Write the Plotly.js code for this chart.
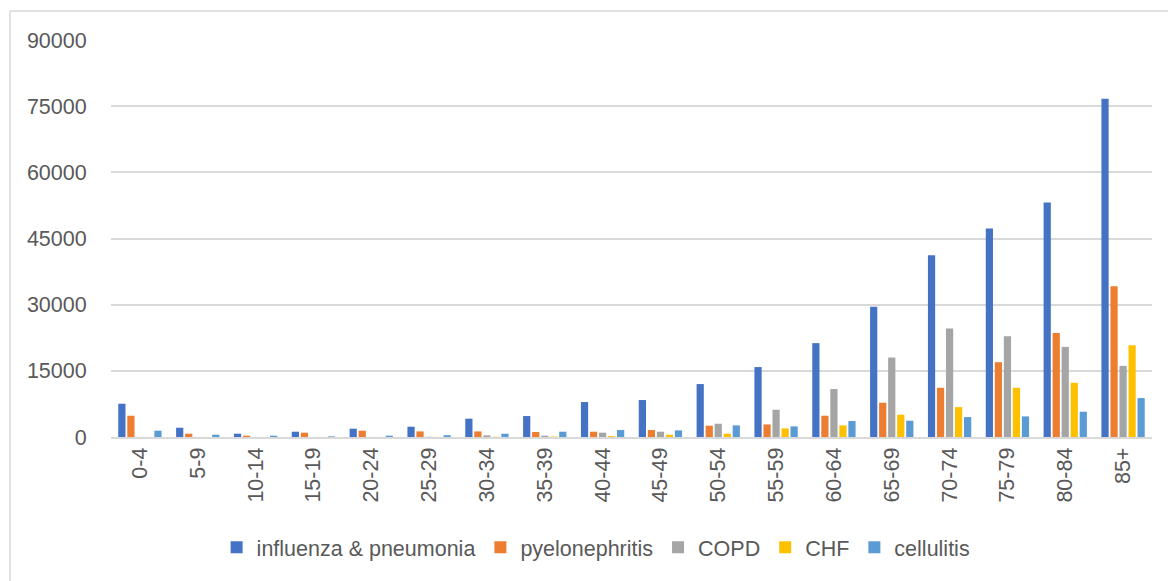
<!DOCTYPE html>
<html>
<head>
<meta charset="utf-8">
<script src="https://cdn.plot.ly/plotly-3.0.1.min.js"></script>
<style>
  html, body { margin: 0; padding: 0; background: #fff; }
  #chart { width: 1168px; height: 581px; }
</style>
</head>
<body>
<div id="chart"></div>
<script>
const ageGroups = ["0-4","5-9","10-14","15-19","20-24","25-29","30-34","35-39","40-44","45-49","50-54","55-59","60-64","65-69","70-74","75-79","80-84","85+"];
const influenzaPneumonia = [7540, 2100, 750, 1200, 1880, 2330, 4150, 4750, 7920, 8380, 12000, 15850, 21280, 29500, 41230, 47260, 53140, 76660];
const pyelonephritis     = [4820, 750, 300, 980, 1430, 1270, 1270, 1130, 1200, 1580, 2560, 2850, 4820, 7770, 11160, 16960, 23590, 34150];
const copd               = [20, 15, 10, 15, 20, 60, 370, 300, 980, 1200, 3010, 6180, 10870, 18020, 24570, 22840, 20430, 16130];
const chf                = [10, 10, 10, 10, 15, 20, 60, 100, 200, 520, 750, 1950, 2630, 5050, 6780, 11160, 12290, 20800];
const cellulitis         = [1430, 520, 300, 150, 300, 400, 750, 1200, 1580, 1500, 2630, 2400, 3620, 3690, 4520, 4670, 5730, 8820];
const yTicks = [0, 15000, 30000, 45000, 60000, 75000, 90000];

const seriesNames = ["influenza & pneumonia", "pyelonephritis", "COPD", "CHF", "cellulitis"];
const seriesValues = [influenzaPneumonia, pyelonephritis, copd, chf, cellulitis];
const seriesColors = ["#4472C4", "#ED7D31", "#A5A5A5", "#FFC000", "#5B9BD5"];

const FONT = "'Liberation Sans', Arial, sans-serif";
const FS = 21.5;

const data = seriesNames.map((name, i) => ({
  type: "bar",
  name: name,
  x: ageGroups,
  y: seriesValues[i],
  marker: { color: seriesColors[i], line: { width: 0 } },
  hoverinfo: "x+y+name"
}));

const plotH = 581 - 40 - 143.5;
const plotW = 1168 - 111 - 16;

const layout = {
  width: 1168,
  height: 581,
  margin: { l: 111, r: 16, t: 40, b: 143.5, pad: 0 },
  paper_bgcolor: "#ffffff",
  plot_bgcolor: "#ffffff",
  barmode: "group",
  bargap: 0.22,
  bargroupgap: 0.2,
  font: { family: FONT, color: "#595959", size: FS },
  xaxis: {
    type: "category",
    tickangle: -90,
    tickfont: { family: FONT, size: FS, color: "#595959" },
    showgrid: false,
    showline: true,
    linecolor: "#d9d9d9",
    linewidth: 2,
    ticks: "",
    ticklen: 0,
    automargin: false
  },
  yaxis: {
    range: [0, 90000],
    tickvals: yTicks,
    ticktext: yTicks.map(String),
    tickfont: { family: FONT, size: FS, color: "#595959" },
    showgrid: true,
    gridcolor: "#d9d9d9",
    gridwidth: 2,
    zeroline: false,
    showline: false,
    ticks: "outside",
    ticklen: 19,
    tickcolor: "rgba(0,0,0,0)",
    automargin: false,
    fixedrange: true
  },
  legend: {
    orientation: "h",
    x: 0.466,
    xanchor: "center",
    y: -0.278,
    yanchor: "middle",
    font: { family: FONT, size: FS, color: "#595959" },
    itemwidth: 30,
    traceorder: "normal",
    bgcolor: "rgba(0,0,0,0)"
  },
  shapes: [
    {
      type: "line", xref: "paper", yref: "paper",
      x0: (10 - 111) / plotW, x1: 1.1,
      y0: (581 - 143.5 - 11) / plotH, y1: (581 - 143.5 - 11) / plotH,
      line: { color: "#d9d9d9", width: 1.5 }
    },
    {
      type: "line", xref: "paper", yref: "paper",
      x0: (10 - 111) / plotW, x1: (10 - 111) / plotW,
      y0: (581 - 143.5 - 11) / plotH, y1: -0.5,
      line: { color: "#d9d9d9", width: 1.5 }
    }
  ]
};

Plotly.newPlot("chart", data, layout, { displayModeBar: false, staticPlot: true });
</script>
</body>
</html>
